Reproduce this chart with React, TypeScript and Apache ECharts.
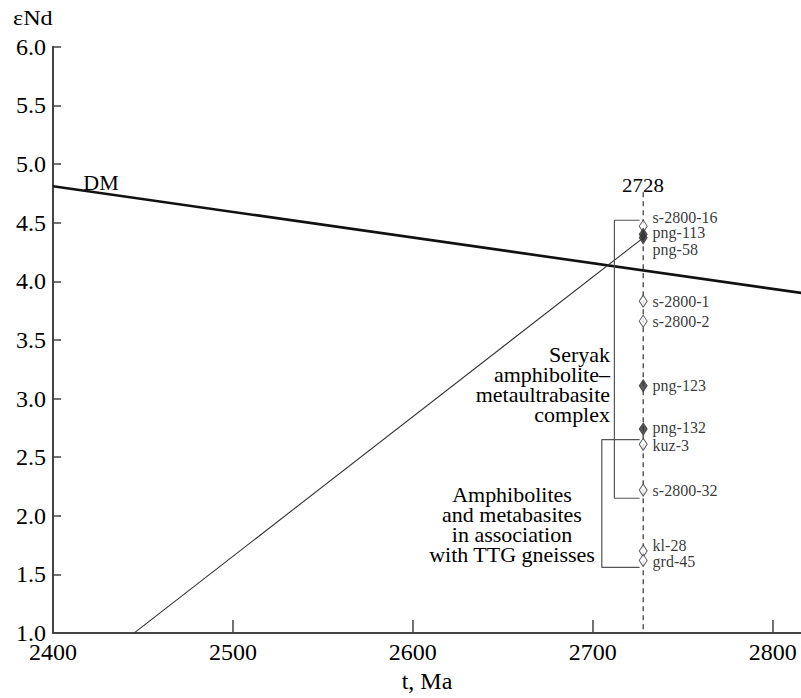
import React, { useEffect, useRef } from "react";
import * as echarts from "echarts";

// Sm–Nd isotope data, εNd(T) recalculated to T = 2728 Ma
const sampleNames = [
  "s-2800-16", "png-113", "png-58", "s-2800-1", "s-2800-2", "png-123",
  "png-132", "kuz-3", "s-2800-32", "kl-28", "grd-45",
];
const sampleEpsNd = [4.47, 4.4, 4.37, 3.83, 3.66, 3.11, 2.74, 2.61, 2.22, 1.7, 1.62];
const sampleFilled = [false, true, true, false, false, true, true, false, false, false, false];
const crystallizationAge = 2728;

// depleted mantle evolution
const dmAges = [2400, 2816];
const dmEpsNd = [4.81, 3.9];

// Nd evolution trend of sample png-58
const trendAges = [2445, 2728];
const trendEpsNd = [1.0, 4.37];

// brackets grouping the samples: [stem age, tip age, top εNd, bottom εNd]
const seryakBracket = [2712, 2726, 4.52, 2.15];
const amphiboliteBracket = [2705, 2726, 2.65, 1.56];

const xMin = 2400;
const xMax = 2815.7;
const yMin = 1.0;
const yMax = 6.0;

const serif = "Liberation Serif, Times New Roman, serif";
const ink = "#000";

// small vertical nudges so that crowded sample labels don't collide
const labelNudge: Record<string, number> = {
  "s-2800-16": -9,
  "png-113": -2,
  "png-58": 12,
  "png-132": -2,
  "kuz-3": 1,
  "kl-28": -6,
  "grd-45": 1,
};

function bracketPath(b: number[]) {
  return [
    [b[1], b[2]],
    [b[0], b[2]],
    [b[0], b[3]],
    [b[1], b[3]],
  ];
}

export default function App() {
  const ref = useRef<HTMLDivElement>(null);

  useEffect(() => {
    if (!ref.current) return;
    const chart = echarts.init(ref.current, undefined, { renderer: "svg" });

    const points = sampleNames.map((n, i) => ({
      value: [crystallizationAge, sampleEpsNd[i]],
      name: n,
      itemStyle: sampleFilled[i]
        ? { color: "#333", borderColor: "#333", borderWidth: 1 }
        : { color: "#ffffff", borderColor: "#333", borderWidth: 1 },
      label: { offset: [0, labelNudge[n] || 0] },
    }));

    const thinLine = { color: "#555", width: 1.2 };

    chart.setOption({
      animation: false,
      grid: { left: 53, right: 0, top: 46.7, bottom: 53, containLabel: false },
      xAxis: {
        type: "value",
        min: xMin,
        max: xMax,
        interval: 100,
        name: "t, Ma",
        nameLocation: "middle",
        nameGap: 35,
        nameTextStyle: { fontFamily: serif, fontSize: 24, color: ink },
        axisLine: { lineStyle: { color: "#444", width: 2 } },
        axisTick: { inside: true, length: 13, lineStyle: { color: "#444", width: 1.5 } },
        axisLabel: {
          showMaxLabel: false,
          margin: 9,
          fontFamily: serif,
          fontSize: 24,
          lineHeight: 20,
          color: ink,
          formatter: (v: number) => String(v),
        },
        splitLine: { show: false },
      },
      yAxis: {
        type: "value",
        min: yMin,
        max: yMax,
        interval: 0.5,
        axisLine: { show: true, lineStyle: { color: "#444", width: 2 } },
        axisTick: { show: true, inside: true, length: 8, lineStyle: { color: "#444", width: 1.5 } },
        axisLabel: {
          margin: 7,
          fontFamily: serif,
          fontSize: 24,
          lineHeight: 20,
          color: ink,
          formatter: (v: number) => v.toFixed(1),
        },
        splitLine: { show: false },
      },
      series: [
        {
          type: "line",
          data: dmAges.map((a, i) => [a, dmEpsNd[i]]),
          symbol: "none",
          lineStyle: { color: "#111", width: 2.6 },
          silent: true,
        },
        {
          type: "line",
          data: trendAges.map((a, i) => [a, trendEpsNd[i]]),
          symbol: "none",
          lineStyle: { color: "#333", width: 1.1 },
          silent: true,
        },
        {
          type: "line",
          data: [
            [crystallizationAge, 4.76],
            [crystallizationAge, yMin],
          ],
          symbol: "none",
          lineStyle: { color: "#333", width: 1.2, type: [5, 4] },
          silent: true,
        },
        {
          type: "line",
          data: bracketPath(seryakBracket),
          symbol: "none",
          lineStyle: thinLine,
          silent: true,
        },
        {
          type: "line",
          data: bracketPath(amphiboliteBracket),
          symbol: "none",
          lineStyle: thinLine,
          silent: true,
        },
        {
          type: "scatter",
          data: points,
          symbol: "diamond",
          symbolSize: [8, 12],
          z: 5,
          label: {
            show: true,
            position: "right",
            distance: 5,
            formatter: "{b}",
            fontFamily: serif,
            fontSize: 16,
            lineHeight: 13,
            color: ink,
          },
        },
      ],
      graphic: [
        {
          type: "text",
          x: 13,
          y: 8,
          scaleX: 1.15,
          style: { text: "εNd", font: `21px ${serif}`, fill: ink, textAlign: "left", textVerticalAlign: "top" },
        },
        {
          type: "text",
          x: 101,
          y: 183,
          scaleX: 1.1,
          style: { text: "DM", font: `20px ${serif}`, fill: ink, textAlign: "center", textVerticalAlign: "middle" },
        },
        {
          type: "text",
          x: 643,
          y: 195,
          scaleX: 1.1,
          style: { text: "2728", font: `19px ${serif}`, fill: ink, textAlign: "center", textVerticalAlign: "bottom" },
        },
        {
          type: "text",
          x: 610,
          y: 385,
          scaleX: 1.1,
          style: {
            text: "Seryak\namphibolite–\nmetaultrabasite\ncomplex",
            font: `20px ${serif}`,
            lineHeight: 20,
            fill: ink,
            textAlign: "right",
            textVerticalAlign: "middle",
          },
        },
        {
          type: "text",
          x: 512,
          y: 525,
          scaleX: 1.1,
          style: {
            text: "Amphibolites\nand metabasites\nin association\nwith TTG gneisses",
            font: `20px ${serif}`,
            lineHeight: 20,
            fill: ink,
            textAlign: "center",
            textVerticalAlign: "middle",
          },
        },
      ],
    });

    return () => chart.dispose();
  }, []);

  return (
    <div
      ref={ref}
      style={{ position: "fixed", left: 0, top: 0, width: 801, height: 698, background: "#fff" }}
    />
  );
}
